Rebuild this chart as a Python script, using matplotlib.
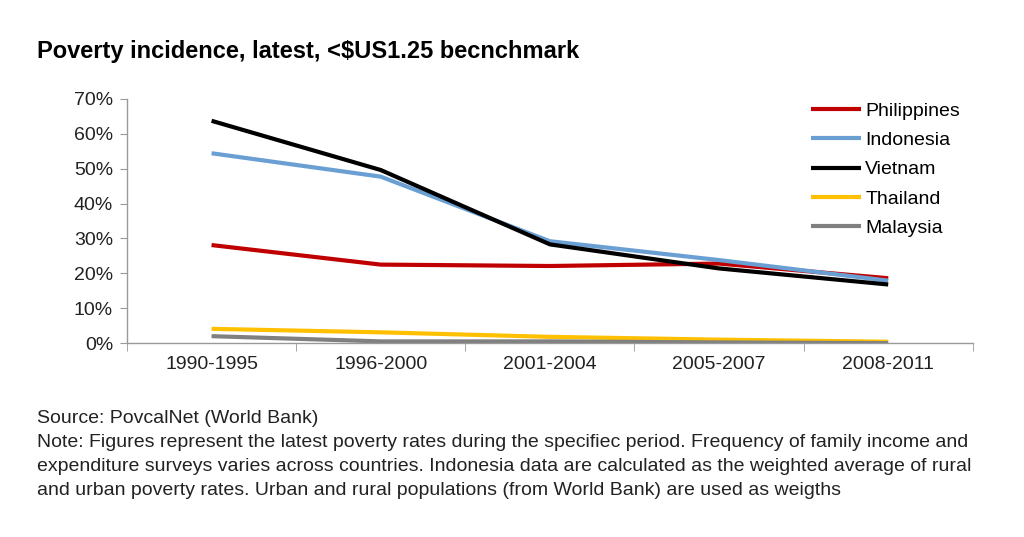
import numpy as np
import matplotlib.pyplot as plt
from matplotlib.ticker import PercentFormatter

plt.rcParams['font.family'] = ['Liberation Sans', 'DejaVu Sans']

periods = ['1990-1995', '1996-2000', '2001-2004', '2005-2007', '2008-2011']
philippines = [28.1, 22.5, 22.1, 22.8, 18.6]
indonesia = [54.4, 47.7, 29.2, 23.8, 17.9]
vietnam = [63.7, 49.6, 28.3, 21.4, 16.8]
thailand = [4.1, 3.1, 1.8, 1.0, 0.4]
malaysia = [2.0, 0.5, 0.5, 0.2, 0.0]

countries = ['Philippines', 'Indonesia', 'Vietnam', 'Thailand', 'Malaysia']
series = [philippines, indonesia, vietnam, thailand, malaysia]
colors = ['#c00000', '#6a9fd4', '#000000', '#ffc000', '#808080']

fig = plt.figure(figsize=(10.24, 5.37), dpi=100)
ax = fig.add_axes([0.124, 0.361, 0.826, 0.455])

x = np.arange(len(periods))
for name, vals, c in zip(countries, series, colors):
    ax.plot(x, vals, color=c, lw=3, label=name, solid_capstyle='butt')

ax.set_xlim(-0.5, len(periods) - 0.5)
ax.set_ylim(0, 70)
ax.set_yticks(np.arange(0, 71, 10))
ax.yaxis.set_major_formatter(PercentFormatter(decimals=0))

# category labels sit between the boundary ticks
ax.set_xticks(x)
ax.set_xticklabels(periods)
ax.set_xticks(np.arange(-0.5, len(periods)), minor=True)
ax.tick_params(axis='x', which='major', length=0, pad=9)
ax.tick_params(axis='x', which='minor', length=6, color='#999999', direction='out')
ax.tick_params(axis='y', length=5, color='#999999', direction='out', pad=5)
ax.tick_params(labelsize=14, labelcolor='#222222')

for s in ['top', 'right']:
    ax.spines[s].set_visible(False)
for s in ['left', 'bottom']:
    ax.spines[s].set_color('#999999')
    ax.spines[s].set_linewidth(1)

ax.legend(loc='upper left', bbox_to_anchor=(0.79, 1.05), frameon=False,
          fontsize=14, handlelength=2.6, handletextpad=0.2, labelspacing=0.6,
          borderpad=0.3)

fig.text(0.036, 0.905, 'Poverty incidence, latest, <$US1.25 becnchmark',
         fontsize=17, fontweight='bold', va='center')

note = ('Source: PovcalNet (World Bank)\n'
        'Note: Figures represent the latest poverty rates during the specifiec period. '
        'Frequency of family income and\n'
        'expenditure surveys varies across countries. Indonesia data are calculated as '
        'the weighted average of rural\n'
        'and urban poverty rates. Urban and rural populations (from World Bank) are used as weigths')
fig.text(0.036, 0.236, note, fontsize=14, va='top', linespacing=1.52, color='#222222')

fig.savefig('out.png', dpi=100)
